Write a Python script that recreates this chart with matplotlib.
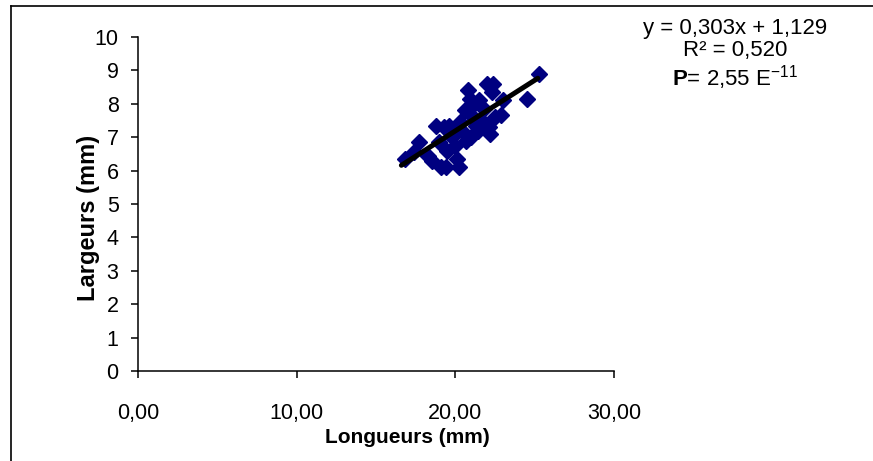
import matplotlib
matplotlib.use("Agg")
import matplotlib.pyplot as plt
import numpy as np
from matplotlib.lines import Line2D
from matplotlib.ticker import FuncFormatter, MultipleLocator

plt.rcParams["font.family"] = ["Liberation Sans", "DejaVu Sans"]
plt.rcParams["mathtext.fontset"] = "custom"
plt.rcParams["mathtext.rm"] = "Liberation Sans"
plt.rcParams["mathtext.bf"] = "Liberation Sans:bold"

# Seed measurements (mm)
longueurs = [16.8, 17.4, 17.7, 18.3, 18.5, 18.8, 19.0, 19.1, 19.4, 19.3,
             19.6, 19.5, 19.8, 20.0, 20.1, 20.2, 20.3, 20.4, 20.6, 20.7,
             20.8, 20.9, 21.0, 21.1, 21.2, 21.3, 21.4, 21.5, 21.6, 21.8,
             22.0, 22.1, 22.2, 22.4, 22.3, 22.5, 22.9, 23.0, 24.5, 25.3]
largeurs = [6.35, 6.55, 6.85, 6.45, 6.3, 7.35, 6.85, 6.1, 6.1, 7.3,
            7.35, 6.6, 7.0, 6.75, 6.35, 6.1, 7.45, 7.2, 7.8, 6.9,
            8.4, 8.15, 7.0, 7.6, 8.0, 7.35, 7.2, 8.1, 7.5, 7.85,
            8.6, 7.3, 7.1, 8.6, 8.35, 7.6, 7.65, 8.1, 8.15, 8.9]

slope, intercept = 0.303, 1.129
r2_text = "0,520"
p_text = "2,55 E$^{-11}$"

W, H = 873, 461
fig = plt.figure(figsize=(W / 100, H / 100), dpi=100, facecolor="white")
ax = fig.add_axes([138 / W, 1 - 371 / H, 476 / W, 334 / H])

ax.plot(longueurs, largeurs, linestyle="none", marker="D", markersize=8,
        color="#000080", markeredgecolor="#000080", zorder=2)
xfit = np.array([16.6, max(longueurs) - 0.1])
ax.plot(xfit, slope * xfit + intercept, color="black", linewidth=3.6,
        solid_capstyle="round", zorder=3)

ax.set_xlim(0, 30)
ax.set_ylim(0, 10)
ax.xaxis.set_major_locator(MultipleLocator(10))
ax.yaxis.set_major_locator(MultipleLocator(1))
ax.xaxis.set_major_formatter(FuncFormatter(lambda v, _: f"{v:.2f}".replace(".", ",")))
ax.spines[["top", "right"]].set_visible(False)
ax.spines[["left", "bottom"]].set_linewidth(1.1)
ax.tick_params(direction="out", length=5, width=1.1, labelsize=15.5)
ax.tick_params(axis="y", pad=9)
ax.tick_params(axis="x", pad=18)

fig.text(407 / W, 1 - 437 / H, "Longueurs (mm)", ha="center", va="center",
         fontsize=15, fontweight="bold")
fig.text(88 / W, 1 - 218 / H, "Largeurs (mm)", ha="center", va="center",
         rotation=90, fontsize=17, fontweight="bold")

fig.text(735 / W, 1 - 34 / H, f"y = {slope:.3f}x + {intercept:.3f}".replace(".", ","),
         ha="center", va="baseline", fontsize=16)
fig.text(735 / W, 1 - 56 / H, f"R² = {r2_text}", ha="center", va="baseline", fontsize=16)
fig.text(735 / W, 1 - 85 / H, r"$\mathbf{P}$= " + p_text, ha="center", va="baseline",
         fontsize=16)

# frame lines along top and left edges
fig.add_artist(Line2D([11 / W, 1], [1 - 6.5 / H] * 2, transform=fig.transFigure,
                      color="black", linewidth=1.2))
fig.add_artist(Line2D([11 / W] * 2, [0, 1 - 6.5 / H], transform=fig.transFigure,
                      color="black", linewidth=1.2))

fig.savefig("out.png", dpi=100, facecolor="white")
